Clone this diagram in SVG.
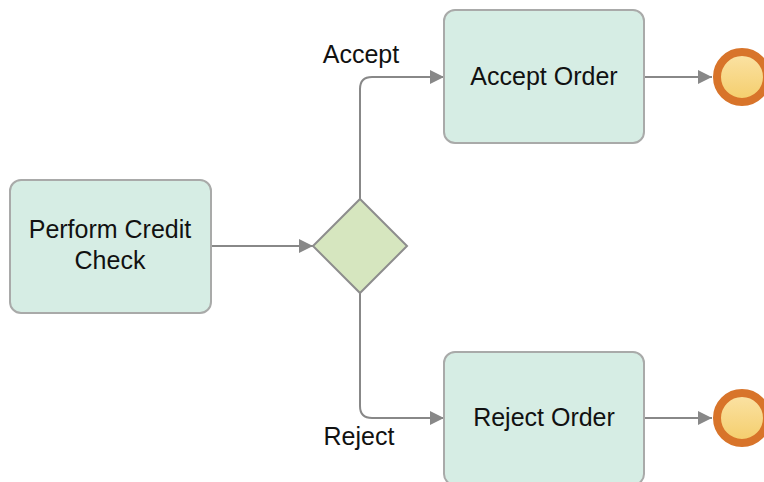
<svg xmlns="http://www.w3.org/2000/svg" width="764" height="482" viewBox="0 0 764 482">
<style>
.box{fill:#d6ede4;stroke:#a9aaa9;stroke-width:2}
.lbl{font-family:"Liberation Sans",Arial,sans-serif;font-size:25px;fill:#111;text-anchor:middle}
.conn{fill:none;stroke:#888;stroke-width:2}
.end{fill:url(#eg);stroke:#d8742a;stroke-width:8}
</style>
<defs>
<marker id="ah" viewBox="0 0 14 14" refX="14" refY="7" markerWidth="14" markerHeight="14" markerUnits="userSpaceOnUse" orient="auto">
<path d="M0,0 L14,7 L0,14 Z" fill="#888"/>
</marker>
<linearGradient id="eg" x1="0" y1="0" x2="0" y2="1">
<stop offset="0" stop-color="#fbe3a6"/>
<stop offset="1" stop-color="#f4cd6a"/>
</linearGradient>
</defs>
<rect width="764" height="482" fill="#fff"/>
<g id="connectors">
<path class="conn" d="M211,246 L313,246" marker-end="url(#ah)"/>
<path class="conn" d="M360,199 L360,89 Q360,77 372,77 L444,77" marker-end="url(#ah)"/>
<path class="conn" d="M360,293 L360,406 Q360,418 372,418 L444,418" marker-end="url(#ah)"/>
<path class="conn" d="M644,77 L712,77" marker-end="url(#ah)"/>
<path class="conn" d="M644,418 L712,418" marker-end="url(#ah)"/>
<text class="lbl" x="361" y="63">Accept</text>
<text class="lbl" x="359" y="445">Reject</text>
</g>
<g id="perform-credit-check">
<rect class="box" x="10" y="180" width="201" height="133" rx="11"/>
<text class="lbl" x="110" y="238">Perform Credit</text>
<text class="lbl" x="110" y="269">Check</text>
</g>
<g id="gateway">
<path d="M360,199 L407,246 L360,293 L313,246 Z" fill="#d6e6bf" stroke="#8d8d8d" stroke-width="2"/>
</g>
<g id="accept-order">
<rect class="box" x="444" y="10" width="200" height="133" rx="11"/>
<text class="lbl" x="544" y="85">Accept Order</text>
</g>
<g id="reject-order">
<rect class="box" x="444" y="352" width="200" height="133" rx="11"/>
<text class="lbl" x="544" y="426">Reject Order</text>
</g>
<g id="end-accept">
<circle class="end" cx="742" cy="77" r="25"/>
</g>
<g id="end-reject">
<circle class="end" cx="742" cy="418" r="25"/>
</g>
</svg>
